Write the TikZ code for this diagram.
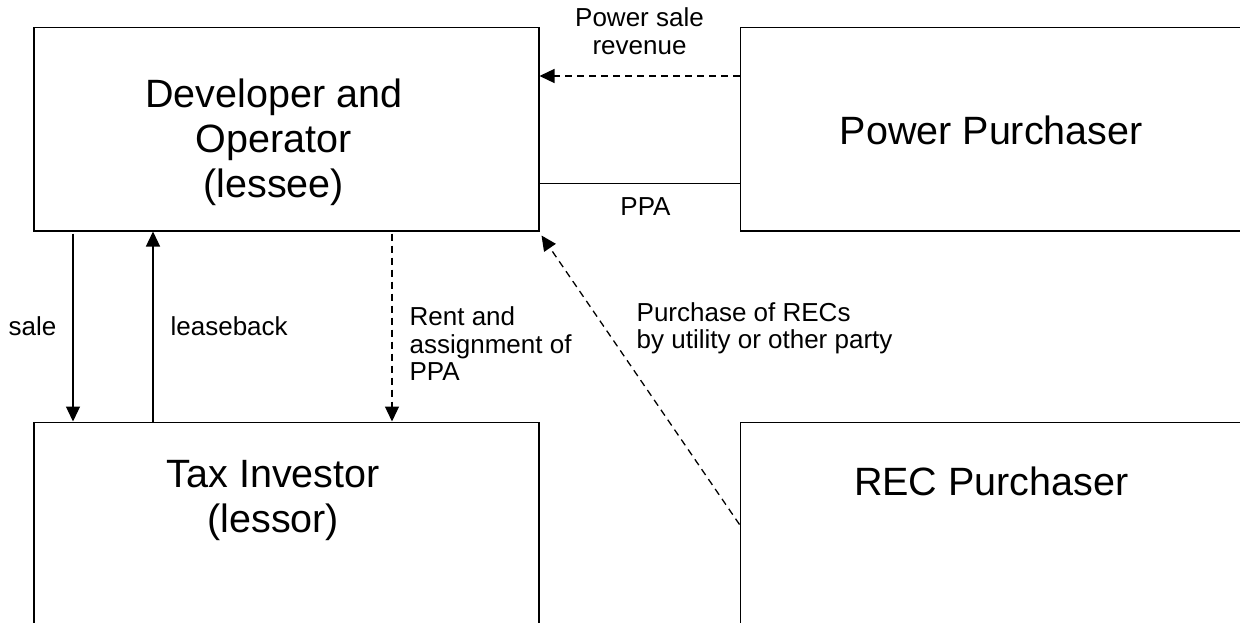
\documentclass[tikz,border=0pt]{standalone}
\usepackage{fontspec}
\setmainfont{Liberation Sans}
\usetikzlibrary{positioning,arrows.meta}

\begin{document}
\begin{tikzpicture}[x=1pt, y=-1pt, node distance=200pt,
	party/.style={rectangle, draw=black, line width=1.5pt, minimum width=505pt, minimum height=203pt, inner sep=0pt},
	partytext/.style={font=\fontsize{39.5}{45}\selectfont, align=center, inner sep=0pt},
	flowtext/.style={font=\fontsize{26}{27.5}\selectfont, align=left, inner sep=0pt},
	flow/.style={line width=1.3pt, -{Triangle[length=15pt,width=14pt]}},
	money/.style={flow, dash pattern=on 7pt off 5pt}]
	\useasboundingbox (0,0) rectangle (1240,623);

	\node (dev) [party, anchor=north west, label={[partytext, xshift=-12.5pt, yshift=-13.5pt]center:{Developer and\\Operator\\(lessee)}}] at (33,27) {};
	\node (power) [party, minimum width=530pt, right=of dev, label={[partytext, xshift=-14pt, yshift=-1.5pt]center:{Power Purchaser}}] {};
	\node (tax) [party, minimum height=210pt, below=190pt of dev, label={[partytext, xshift=-13pt, yshift=26.5pt]center:{Tax Investor\\(lessor)}}] {};
	\node (rec) [party, minimum width=530pt, minimum height=210pt, right=of tax, label={[partytext, xshift=-14pt, yshift=46pt]center:{REC Purchaser}}] {};

	\draw[money] ([yshift=-49pt]power.north west) -- node[flowtext, align=center, above=21pt] {Power sale\\revenue} ([yshift=-49pt]dev.north east);
	\draw[line width=1.3pt] ([yshift=48pt]dev.south east) -- node[flowtext, below=13pt, xshift=6pt] {PPA} ([yshift=48pt]power.south west);
	\draw[flow, shorten <=2pt] ([xshift=40pt]dev.south west) -- node[flowtext, left=16pt] {sale} ([xshift=40pt]tax.north west);
	\draw[flow] ([xshift=120pt]tax.north west) -- node[flowtext, right=17pt] {leaseback} ([xshift=120pt]dev.south west);
	\draw[money, shorten <=2pt] ([xshift=359pt]dev.south west) -- node[flowtext, pos=0.59, right=17pt] {Rent and\\assignment of\\PPA} ([xshift=359pt]tax.north west);
	\draw[money] ([yshift=-103pt]rec.north west) -- node[flowtext, pos=0.77, anchor=north west, xshift=49pt] {Purchase of RECs\\by utility or other party} ([xshift=2pt, yshift=-4pt]dev.south east);
\end{tikzpicture}
\end{document}
